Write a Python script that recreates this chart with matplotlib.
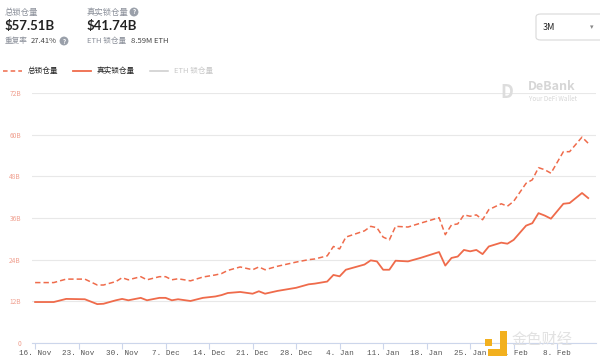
import matplotlib
matplotlib.use('Agg')
import matplotlib.pyplot as plt
import matplotlib.dates as mdates
from matplotlib.patches import FancyBboxPatch, Rectangle
from matplotlib.lines import Line2D
import pandas as pd

plt.rcParams['font.family'] = ['Noto Sans CJK SC', 'DejaVu Sans']

# data (billions USD)
dates = ['2020-11-16', '2020-11-19', '2020-11-21', '2020-11-24', '2020-11-26', '2020-11-27',
         '2020-11-29', '2020-11-30', '2020-12-01', '2020-12-03', '2020-12-04', '2020-12-06',
         '2020-12-07', '2020-12-08', '2020-12-09', '2020-12-11', '2020-12-13', '2020-12-15',
         '2020-12-16', '2020-12-17', '2020-12-19', '2020-12-21', '2020-12-22', '2020-12-23',
         '2020-12-25', '2020-12-26', '2020-12-28', '2020-12-30', '2020-12-31', '2021-01-02',
         '2021-01-03', '2021-01-04', '2021-01-05', '2021-01-07', '2021-01-08', '2021-01-09',
         '2021-01-10', '2021-01-11', '2021-01-12', '2021-01-13', '2021-01-15', '2021-01-17',
         '2021-01-20', '2021-01-21', '2021-01-22', '2021-01-23', '2021-01-24', '2021-01-25',
         '2021-01-26', '2021-01-27', '2021-01-28', '2021-01-30', '2021-01-31', '2021-02-01',
         '2021-02-03', '2021-02-04', '2021-02-05', '2021-02-06', '2021-02-07', '2021-02-09',
         '2021-02-10', '2021-02-12', '2021-02-13']
real_tvl = [11.8, 11.8, 12.7, 12.6, 11.2, 11.3, 12.3, 12.7, 12.3, 13.0, 12.3, 13.0,
            13.0, 12.3, 12.6, 12.1, 13.0, 13.4, 13.8, 14.4, 14.7, 14.2, 14.9, 14.2,
            15.0, 15.3, 15.9, 16.9, 17.1, 17.7, 19.6, 19.2, 21.1, 22.1, 22.6, 23.8,
            23.5, 21.1, 21.1, 23.7, 23.5, 24.5, 26.2, 22.3, 24.5, 24.9, 26.8, 26.4,
            26.8, 25.6, 27.8, 28.9, 28.6, 29.7, 33.8, 34.5, 37.4, 36.7, 35.8, 40.1,
            40.3, 43.2, 41.74]
total_tvl = [17.4, 17.4, 18.4, 18.4, 16.7, 16.7, 17.7, 18.8, 18.2, 19.1, 18.2, 19.1,
             19.1, 18.2, 18.5, 17.9, 19.0, 19.6, 20.0, 20.9, 21.9, 21.1, 21.9, 21.1,
             22.1, 22.5, 23.3, 24.0, 24.2, 25.1, 27.8, 27.1, 30.5, 31.7, 32.3, 33.6,
             33.2, 30.5, 29.7, 33.6, 33.4, 34.5, 36.1, 31.2, 34.0, 34.3, 36.9, 36.5,
             36.9, 35.5, 38.4, 40.1, 39.4, 40.8, 46.0, 47.0, 50.5, 49.9, 48.9, 55.1,
             55.1, 59.3, 57.51]
y_ticks = [0, 12, 24, 36, 48, 60, 72]
y_labels = ['0', '12B', '24B', '36B', '48B', '60B', '72B']

dt = pd.to_datetime(dates)
line_color = '#ef6b4b'

fig = plt.figure(figsize=(6, 3.63), dpi=100)
ax = fig.add_axes([32 / 600, 20 / 363, 564 / 600, 250 / 363])

ax.plot(dt, total_tvl, color=line_color, lw=1.1, ls=(0, (3.5, 2)))
ax.plot(dt, real_tvl, color=line_color, lw=1.3)

ax.set_ylim(0, 72)
ax.set_yticks(y_ticks)
ax.set_yticklabels(y_labels, color='#f0a090', fontsize=4.8)
ax.tick_params(axis='y', length=0, pad=8)
ax.grid(axis='y', color='#e8e8e8', lw=0.8)

ax.set_xlim(pd.Timestamp('2020-11-15 12:00'), pd.Timestamp('2021-02-14 06:00'))
ax.xaxis.set_major_locator(mdates.WeekdayLocator(byweekday=mdates.MO))
ax.xaxis.set_major_formatter(mdates.DateFormatter('%-d. %b'))
ax.tick_params(axis='x', length=4, color='#ccd6eb', labelsize=5.5, labelcolor='#555555', pad=1)
for lbl in ax.get_xticklabels():
    lbl.set_family('Liberation Mono')

for side in ['top', 'right', 'left']:
    ax.spines[side].set_visible(False)
ax.spines['bottom'].set_color('#ccd6eb')
ax.spines['bottom'].set_linewidth(0.8)

# header
def px(x, y):
    return x / 600, 1 - y / 363

fig.text(*px(5, 12), '总锁仓量', fontsize=6, color='#8a8f99', va='center')
fig.text(*px(5, 26), '$57.51B', fontsize=9.5, color='#222222', va='center',
         family='Lato', fontweight='bold')
fig.text(*px(5, 41), '重复率', fontsize=5.5, color='#8a8f99', va='center')
fig.text(*px(31, 41), '27.41%', fontsize=5.5, color='#444444', va='center')
fig.text(*px(87, 12), '真实锁仓量', fontsize=6, color='#8a8f99', va='center')
fig.text(*px(87, 26), '$41.74B', fontsize=9.5, color='#222222', va='center',
         family='Lato', fontweight='bold')
fig.text(*px(87, 41), 'ETH 锁仓量', fontsize=5.5, color='#8a8f99', va='center')
fig.text(*px(131, 41), '8.59M ETH', fontsize=5.5, color='#444444', va='center')
for cx, cy in [(64, 41), (134, 12)]:
    fig.text(*px(cx, cy), '?', fontsize=4.5, color='white', ha='center', va='center',
             fontweight='bold',
             bbox=dict(boxstyle='circle,pad=0.15', fc='#9aa0aa', ec='none'))

# dropdown
box = FancyBboxPatch((536 / 600, 1 - 40 / 363), 70 / 600, 26 / 363,
                     boxstyle='round,pad=0,rounding_size=0.008',
                     transform=fig.transFigure, fc='white', ec='#d9d9d9', lw=0.8)
fig.patches.append(box)
fig.text(*px(543, 27), '3M', fontsize=6.5, color='#222222', va='center')
fig.text(*px(590, 27), '▾', fontsize=5, color='#888888', va='center')

# legend
def leg_line(x0, x1, y, **kw):
    fig.add_artist(Line2D([x0 / 600, x1 / 600], [1 - y / 363, 1 - y / 363],
                          transform=fig.transFigure, **kw))

leg_line(3, 22, 71, color=line_color, lw=1.1, ls=(0, (3, 2)))
fig.text(*px(28, 71), '总锁仓量', fontsize=5.5, color='#222222', va='center')
leg_line(73, 91, 71, color=line_color, lw=1.3)
fig.text(*px(97, 71), '真实锁仓量', fontsize=5.5, color='#222222', va='center')
leg_line(150, 168, 71, color='#cccccc', lw=1.1)
fig.text(*px(174, 71), 'ETH 锁仓量', fontsize=5.5, color='#c8c8c8', va='center')

# DeBank watermark
fig.text(*px(500, 92), 'D', fontsize=13, color='#dddddd', fontweight='bold', va='center')
fig.text(*px(528, 87), 'DeBank', fontsize=9, color='#d6d6d6', fontweight='bold', va='center')
fig.text(*px(529, 99), 'Your DeFi Wallet', fontsize=4.5, color='#d6d6d6', va='center')

# 金色财经 watermark (yellow logo + grey text)
def fig_rect(x0, y0, x1, y1):
    fig.patches.append(Rectangle((x0 / 600, 1 - y1 / 363), (x1 - x0) / 600, (y1 - y0) / 363,
                                 transform=fig.transFigure, fc='#f2b01e', ec='none'))

fig_rect(485, 339, 492, 346)
fig_rect(500, 331, 507, 356)
fig_rect(488, 349, 507, 356)
fig.text(*px(512, 339), '金色财经', fontsize=11, color='#e2e2e2', va='center')

fig.savefig('out.png', dpi=100)
